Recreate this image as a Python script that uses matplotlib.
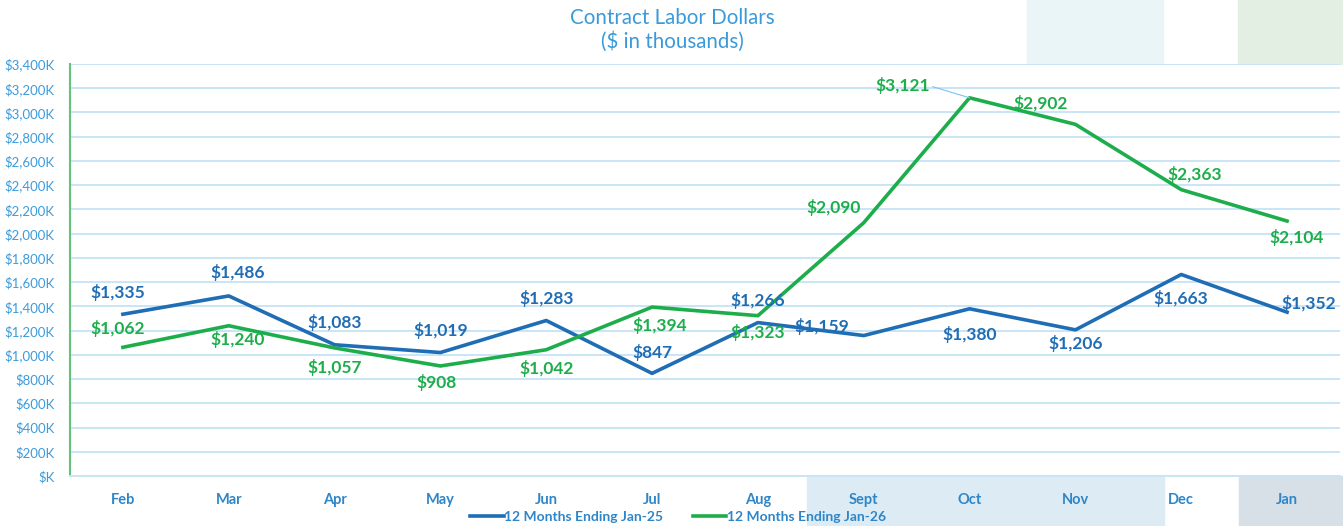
import matplotlib.pyplot as plt
from matplotlib.patches import Rectangle
from matplotlib.ticker import FuncFormatter

plt.rcParams['font.family'] = ['Lato', 'DejaVu Sans']

# data ($ in thousands)
months = ['Feb', 'Mar', 'Apr', 'May', 'Jun', 'Jul', 'Aug', 'Sept', 'Oct', 'Nov', 'Dec', 'Jan']
ending_jan25 = [1335, 1486, 1083, 1019, 1283, 847, 1266, 1159, 1380, 1206, 1663, 1352]
ending_jan26 = [1062, 1240, 1057, 908, 1042, 1394, 1323, 2090, 3121, 2902, 2363, 2104]

# label offsets in pixels (dx, dy)
off25 = [(-5, 22), (9, 23), (0, 22), (0, 22), (0, 22), (0, 21), (0, 22),
         (-42, 9), (0, -26), (0, -14), (0, -24), (22, 9)]
off26 = [(-5, 19), (9, -14), (0, -20), (-4, -17), (0, -19), (8, -18), (0, -17),
         (-30, 15), (-67, 12), (-35, 21), (13, 15), (9, -16)]

blue = '#1F6DB5'
green = '#1DAE4B'
tick_blue = '#3C9BDB'
grid_blue = '#C8E5F6'

fig = plt.figure(figsize=(13.43, 5.26), dpi=100)
fig.patch.set_facecolor('white')

# slide background pieces behind the chart
W, H = 1343, 526
def bg(x0, y0, x1, y1, c):
    fig.patches.append(Rectangle((x0 / W, 1 - y1 / H), (x1 - x0) / W, (y1 - y0) / H,
                                 transform=fig.transFigure, color=c, zorder=-5))
bg(807, 476, 1164, 526, '#DDEBF5')
bg(1239, 476, 1343, 526, '#D7DFE7')
bg(1027, 0, 1163, 64, '#E9F5F7')
bg(1238, 0, 1343, 64, '#E4EFE3')

ax = fig.add_axes([70 / W, 1 - 476 / H, 1270 / W, 412 / H])
ax.set_facecolor('white')

x = range(len(months))
ax.plot(x, ending_jan25, color=blue, lw=2.6, label='12 Months Ending Jan-25', zorder=3)
ax.plot(x, ending_jan26, color=green, lw=2.6, label='12 Months Ending Jan-26', zorder=3)

for i, (v, o) in enumerate(zip(ending_jan25, off25)):
    ax.annotate(f'${v:,}', (i, v), xytext=o, textcoords='offset pixels',
                ha='center', va='center', color=blue, fontsize=12.5, fontweight='bold', zorder=4)
for i, (v, o) in enumerate(zip(ending_jan26, off26)):
    arrow = None
    if months[i] == 'Oct':
        arrow = dict(arrowstyle='-', color='#7CC3EC', lw=0.8, shrinkA=0, shrinkB=0,
                     relpos=(1, 0.5))
    ax.annotate(f'${v:,}', (i, v), xytext=o, textcoords='offset pixels',
                ha='center', va='center', color=green, fontsize=12.5, fontweight='bold',
                arrowprops=arrow, zorder=4)

ax.set_xlim(-0.5, 11.5)
ax.set_ylim(0, 3400)
ax.set_yticks(range(0, 3401, 200))
ax.yaxis.set_major_formatter(FuncFormatter(lambda v, p: f'${v:,.0f}K' if v else '$K'))
ax.set_xticks(list(x))
ax.set_xticklabels(months, fontweight='bold', fontsize=10.5, color='#2E86C8')
ax.tick_params(axis='y', labelsize=9.5, labelcolor=tick_blue, length=0, pad=11)
ax.tick_params(axis='x', length=0, pad=12)
ax.grid(axis='y', color=grid_blue, lw=1.4)
ax.set_axisbelow(True)
for s in ['top', 'right']:
    ax.spines[s].set_visible(False)
ax.spines['left'].set_color('#62C27F')
ax.spines['left'].set_linewidth(1.5)
ax.spines['bottom'].set_color(grid_blue)
ax.spines['bottom'].set_linewidth(1.4)

fig.text(672 / W, 1 - 30 / H, 'Contract Labor Dollars\n($ in thousands)', ha='center',
         va='center', fontsize=14.8, color='#3A9AD9', linespacing=1.2)

leg = fig.legend(loc='center', bbox_to_anchor=(678 / W, 1 - 517 / H), ncol=2, frameon=False,
                 prop={'size': 10, 'weight': 'bold'}, handlelength=2.4, handletextpad=0.05,
                 columnspacing=2.1, borderpad=0)
for t in leg.get_texts():
    t.set_color('#2E86C8')

fig.savefig('out.png', dpi=100)
